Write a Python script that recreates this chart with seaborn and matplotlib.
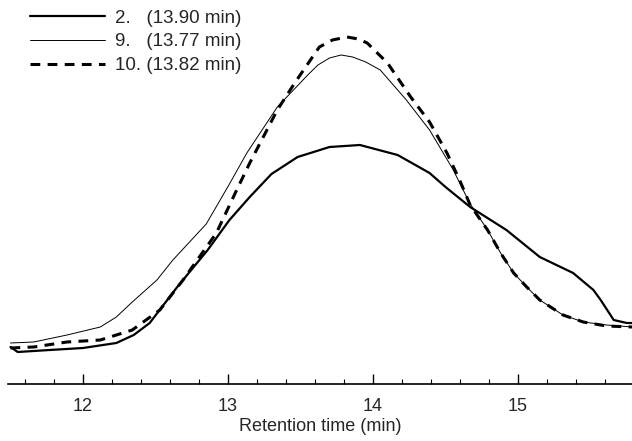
import matplotlib
matplotlib.use("Agg")
import matplotlib.pyplot as plt
from matplotlib.ticker import MultipleLocator
import seaborn as sns
import pandas as pd

sns.set_theme(style="white")
plt.rcParams['font.family'] = ['Liberation Sans', 'DejaVu Sans']

# Retention time (min) and detector response (arbitrary units)
t_2 = [11.50, 11.55, 11.77, 12.00, 12.23, 12.35, 12.46, 12.65, 12.86, 13.01, 13.15, 13.30,
       13.48, 13.70, 13.91, 14.17, 14.39, 14.50, 14.67, 14.92, 15.15, 15.38, 15.52, 15.57,
       15.66, 15.75, 15.79]
y_2 = [37, 32, 34, 36, 41, 49, 61, 97, 134, 164, 187, 210,
       227, 237, 239, 229, 211, 197, 177, 154, 127, 111, 94, 84,
       64, 61, 61]

t_9 = [11.50, 11.66, 11.89, 12.12, 12.23, 12.34, 12.51, 12.62, 12.85, 13.01, 13.13,
       13.34, 13.55, 13.62, 13.70, 13.78, 13.86, 13.95, 14.05, 14.23, 14.39, 14.55, 14.67,
       14.79, 14.88, 14.97, 15.06, 15.15, 15.31, 15.45, 15.61, 15.79]
y_9 = [41, 42, 49, 57, 67, 82, 104, 124, 160, 200, 231,
       277, 309, 319, 326, 329, 327, 322, 314, 284, 254, 215, 180,
       154, 131, 111, 97, 84, 69, 62, 59, 57]

t_10 = [11.50, 11.66, 11.89, 12.12, 12.34, 12.53, 12.69, 12.92, 13.06, 13.15, 13.34, 13.46,
        13.63, 13.72, 13.82, 13.90, 13.96, 14.10, 14.26, 14.39, 14.51, 14.60, 14.67, 14.79,
        14.88, 14.97, 15.06, 15.15, 15.31, 15.45, 15.61, 15.79]
y_10 = [36, 37, 42, 44, 54, 74, 104, 151, 194, 221, 274, 301,
        337, 344, 347, 345, 341, 321, 287, 262, 231, 203, 179, 154,
        131, 111, 97, 84, 69, 62, 58, 57]

labels = ["2.   (13.90 min)", "9.   (13.77 min)", "10. (13.82 min)"]

df2 = pd.DataFrame({"Retention time (min)": t_2, "signal": y_2})
df9 = pd.DataFrame({"Retention time (min)": t_9, "signal": y_9})
df10 = pd.DataFrame({"Retention time (min)": t_10, "signal": y_10})

fig = plt.figure(figsize=(6.32, 4.41), dpi=100)
ax = fig.add_axes([8 / 632, 1 - 384 / 441, 1 - 8 / 632, 384 / 441])

sns.lineplot(x="Retention time (min)", y="signal", data=df2, ax=ax,
             color="black", linewidth=1.6, label=labels[0])
sns.lineplot(x="Retention time (min)", y="signal", data=df9, ax=ax,
             color="black", linewidth=0.7, label=labels[1])
sns.lineplot(x="Retention time (min)", y="signal", data=df10, ax=ax,
             color="black", linewidth=2.2, linestyle="--", label=labels[2])
ax.lines[2].set_dashes((3.2, 2.4))

ax.set_xlim(11.483, 15.786)
ax.set_ylim(0, 384)
ax.set_ylabel("")
ax.set_yticks([])
ax.set_xlabel("Retention time (min)", fontsize=13, labelpad=2)

ax.xaxis.set_major_locator(MultipleLocator(1))
ax.xaxis.set_minor_locator(MultipleLocator(0.2))
ax.tick_params(axis="x", which="major", direction="in", length=7, width=1,
               labelsize=13, pad=10, bottom=True, color="black")
ax.tick_params(axis="x", which="minor", direction="in", length=3.5, width=0.8,
               bottom=True, color="black")

for side in ["top", "right", "left"]:
    ax.spines[side].set_visible(False)
ax.spines["bottom"].set_linewidth(1.2)
ax.spines["bottom"].set_color("black")

leg = ax.legend(loc="upper left", bbox_to_anchor=(16 / 624, 0.99), frameon=False,
                fontsize=13.5, handlelength=4.0, handletextpad=0.55, labelspacing=0.36,
                borderaxespad=0.1, borderpad=0.2)
leg.get_lines()[2].set_dashes((3.2, 2.4))

fig.savefig("out.png", dpi=100)
